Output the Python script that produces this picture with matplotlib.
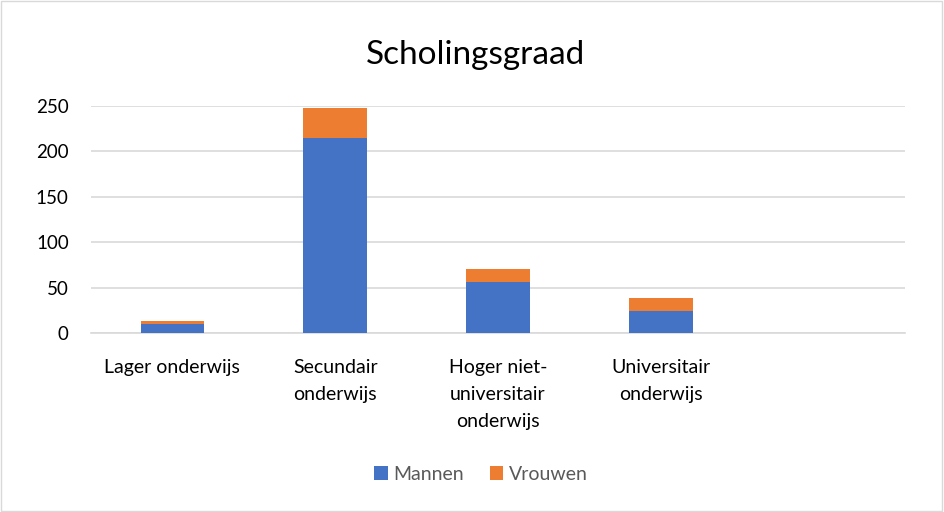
import matplotlib
matplotlib.use("Agg")
from matplotlib import pyplot as plt
from matplotlib.patches import Rectangle
import numpy as np

# Gegevens
categories = ["Lager onderwijs", "Secundair\nonderwijs",
              "Hoger niet-\nuniversitair\nonderwijs", "Universitair\nonderwijs", ""]
mannen = [10, 215, 56, 24, 0]
vrouwen = [3, 33, 15, 15, 0]
yticks = [0, 50, 100, 150, 200, 250]

blue = "#4472C4"
orange = "#ED7D31"
grid_col = "#D9D9D9"

plt.rcParams["font.family"] = ["Lato", "DejaVu Sans"]

fig = plt.figure(figsize=(9.44, 5.12), dpi=100)
ax = fig.add_axes([91 / 944, 1 - 333 / 512, (905 - 91) / 944, (333 - 106) / 512])

x = np.arange(len(categories))
ax.bar(x, mannen, width=0.39, color=blue, label="Mannen", zorder=3)
ax.bar(x, vrouwen, width=0.39, bottom=mannen, color=orange, label="Vrouwen", zorder=3)

ax.set_xlim(-0.5, len(categories) - 0.5)
ax.set_ylim(0, 250)
ax.set_yticks(yticks)
ax.yaxis.grid(True, color=grid_col, linewidth=1.2, zorder=0)
ax.set_axisbelow(True)
for side in ["top", "right", "left"]:
    ax.spines[side].set_visible(False)
ax.spines["bottom"].set_color(grid_col)
ax.spines["bottom"].set_linewidth(1.2)
ax.tick_params(axis="y", length=0, labelsize=13.5, colors="black", pad=16)

ax.set_xticks(x)
ax.set_xticklabels(categories, linespacing=1.7, va="top")
ax.tick_params(axis="x", length=0, labelsize=14, colors="black", pad=19)

fig.text(476 / 944, 1 - 55 / 512, "Scholingsgraad", ha="center", va="center",
         fontsize=24, color="black")

fig.legend(loc="center", bbox_to_anchor=(481 / 944, 1 - 474 / 512), ncol=2,
           frameon=False, fontsize=14, labelcolor="#595959", handlelength=0.7,
           handleheight=0.7, handletextpad=0.3, columnspacing=1.3)

fig.patches.append(Rectangle((0.001, 0.001), 0.997, 0.997, transform=fig.transFigure,
                             fill=False, edgecolor=grid_col, linewidth=1))

fig.savefig("out.png", dpi=100)
